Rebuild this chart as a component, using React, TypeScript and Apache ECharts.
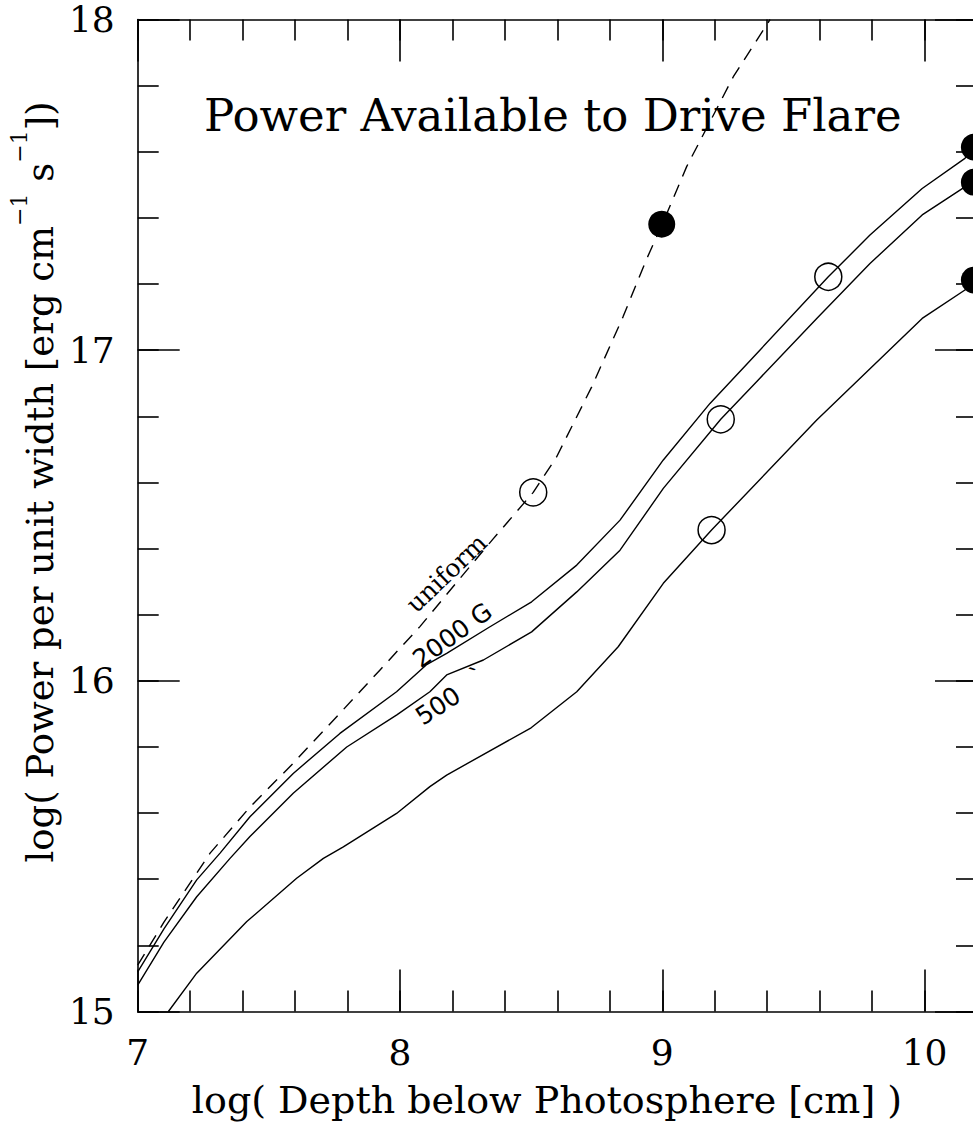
import React, { useEffect, useRef } from "react";
import * as echarts from "echarts";

// ---- data ----
const uniformX = [7.0, 7.1, 7.276, 7.429, 7.593, 7.771, 7.924, 8.076, 8.229, 8.356, 8.508, 8.597, 8.731, 8.85, 8.94, 9.0, 9.093, 9.271, 9.411];
const uniformY = [15.14, 15.27, 15.479, 15.619, 15.751, 15.902, 16.033, 16.164, 16.31, 16.43, 16.57, 16.677, 16.889, 17.1, 17.275, 17.381, 17.555, 17.827, 18.0];

const g2000X = [7.0, 7.1, 7.225, 7.314, 7.428, 7.593, 7.771, 7.987, 8.1, 8.178, 8.34, 8.502, 8.674, 8.839, 9.004, 9.182, 9.372, 9.633, 9.792, 9.991, 10.154, 10.19];
const g2000Y = [15.12, 15.25, 15.398, 15.479, 15.589, 15.72, 15.841, 15.967, 16.048, 16.083, 16.162, 16.239, 16.35, 16.486, 16.668, 16.839, 17.0, 17.222, 17.348, 17.489, 17.58, 17.614];

const g500X = [7.0, 7.1, 7.225, 7.352, 7.428, 7.593, 7.797, 7.988, 8.114, 8.178, 8.318, 8.502, 8.674, 8.839, 9.004, 9.223, 9.366, 9.589, 9.792, 9.991, 10.154, 10.19];
const g500Y = [15.08, 15.21, 15.347, 15.463, 15.529, 15.66, 15.8, 15.897, 15.967, 16.018, 16.063, 16.148, 16.269, 16.395, 16.582, 16.791, 16.91, 17.096, 17.262, 17.409, 17.494, 17.508];

const lowX = [7.117, 7.225, 7.416, 7.606, 7.708, 7.784, 7.987, 8.114, 8.178, 8.5, 8.674, 8.832, 9.004, 9.188, 9.589, 9.991, 10.154, 10.19];
const lowY = [15.0, 15.116, 15.272, 15.403, 15.463, 15.498, 15.599, 15.68, 15.715, 15.858, 15.967, 16.103, 16.295, 16.456, 16.789, 17.096, 17.182, 17.212];

const openX = [8.508, 9.633, 9.223, 9.188];
const openY = [16.57, 17.222, 16.791, 16.456];

const filledX = [8.998, 10.19, 10.19, 10.19];
const filledY = [17.381, 17.614, 17.508, 17.212];

const labelNames = ["uniform", "2000 G", "500", "`"];
const labelX = [8.178, 8.2, 8.145, 8.298];
const labelY = [16.325, 16.138, 15.924, 16.015];
const labelRot = [43.7, 36, 33, 33];

const xTickLabels = ["7", "8", "9", "10"];
const yTickLabels = ["15", "16", "17", "18"];

const TITLE = "Power Available to Drive Flare";
const XNAME = "log( Depth below Photosphere [cm] )";

const zip = (xs: number[], ys: number[]) => xs.map((x, i) => [x, ys[i]]);

const SERIF = '"DejaVu Serif", "Liberation Serif", serif';
const SANS = '"DejaVu Sans", "Liberation Sans", sans-serif';
const AX = { color: "#000", width: 1.6 };

function xAxis(position: string, interval: number, len: number, labels: boolean, line: boolean) {
  return {
    type: "value",
    position,
    min: 7,
    max: 10.2,
    interval,
    axisLine: { show: line, lineStyle: AX },
    axisTick: { show: true, inside: true, length: len, lineStyle: AX },
    axisLabel: labels
      ? {
          show: true,
          margin: 23,
          color: "#000",
          fontFamily: SERIF,
          fontSize: 36,
          formatter: (v: number) => (xTickLabels.includes(String(v)) ? String(v) : ""),
        }
      : { show: false },
    splitLine: { show: false },
  };
}

function yAxis(position: string, interval: number, len: number, labels: boolean, line: boolean) {
  return {
    type: "value",
    position,
    min: 15,
    max: 18,
    interval,
    axisLine: { show: line, lineStyle: AX },
    axisTick: { show: true, inside: true, length: len, lineStyle: AX },
    axisLabel: labels
      ? {
          show: true,
          margin: 23,
          color: "#000",
          fontFamily: SERIF,
          fontSize: 36,
          formatter: (v: number) => (yTickLabels.includes(String(v)) ? String(v) : ""),
        }
      : { show: false },
    splitLine: { show: false },
  };
}

function lineSeries(name: string, xs: number[], ys: number[], dashed: boolean) {
  return {
    name,
    type: "line",
    data: zip(xs, ys),
    symbol: "none",
    smooth: false,
    clip: true,
    lineStyle: { color: "#000", width: 1.4, type: dashed ? [13, 9] : "solid", opacity: 1 },
    z: 2,
  };
}

export default function App() {
  const ref = useRef<HTMLDivElement>(null);

  useEffect(() => {
    if (!ref.current) return;
    const chart = echarts.init(ref.current, undefined, { renderer: "svg" });
    chart.setOption({
      animation: false,
      backgroundColor: "#fff",
      title: {
        text: TITLE,
        left: 199,
        top: 88,
        textStyle: { fontFamily: SERIF, fontSize: 45, fontWeight: "normal", color: "#000" },
      },
      grid: { left: 137.7, top: 19.5, width: 839.3, height: 992, containLabel: false },
      xAxis: [
        xAxis("bottom", 1, 42, true, true),
        xAxis("bottom", 0.2, 21, false, false),
        xAxis("top", 1, 42, false, true),
        xAxis("top", 0.2, 21, false, false),
      ],
      yAxis: [
        yAxis("left", 1, 42, true, true),
        yAxis("left", 0.2, 21, false, false),
        yAxis("right", 1, 42, false, true),
        yAxis("right", 0.2, 21, false, false),
      ],
      graphic: [
        {
          type: "text",
          x: 547,
          y: 1100,
          style: {
            text: XNAME,
            fontFamily: SERIF,
            fontSize: 38,
            fill: "#000",
            align: "center",
            verticalAlign: "middle",
          },
        },
        {
          type: "text",
          x: 40,
          y: 482,
          rotation: Math.PI / 2,
          style: {
            text: "{m|log( Power per unit width [erg cm}{s|−1}{m| s}{s|−1}{m|])}",
            rich: {
              m: { fontFamily: SERIF, fontSize: 37, lineHeight: 64, fill: "#000" },
              s: { fontFamily: SERIF, fontSize: 22, lineHeight: 22, verticalAlign: "top", fill: "#000" },
            },
            fill: "#000",
            align: "center",
            verticalAlign: "middle",
          },
        },
      ],
      series: [
        lineSeries("uniform", uniformX, uniformY, true),
        lineSeries("2000 G", g2000X, g2000Y, false),
        lineSeries("500 G", g500X, g500Y, false),
        lineSeries("low", lowX, lowY, false),
        {
          type: "scatter",
          data: zip(openX, openY),
          symbol: "circle",
          symbolSize: 27,
          clip: false,
          itemStyle: { color: "rgba(0,0,0,0)", borderColor: "#000", borderWidth: 1.5, opacity: 1 },
          z: 3,
        },
        {
          type: "scatter",
          data: zip(filledX, filledY),
          symbol: "circle",
          symbolSize: 27,
          clip: false,
          itemStyle: { color: "#000", opacity: 1 },
          z: 3,
        },
        {
          type: "scatter",
          symbolSize: 1,
          clip: false,
          itemStyle: { color: "rgba(0,0,0,0)", opacity: 1 },
          data: labelNames.map((n, i) => ({
            name: n,
            value: [labelX[i], labelY[i]],
            label: {
              rotate: labelRot[i],
              fontFamily: i === 0 ? SERIF : SANS,
              fontSize: 25,
            },
          })),
          label: {
            show: true,
            position: "inside",
            formatter: "{b}",
            color: "#000",
            opacity: 1,
            textBorderWidth: 0,
          },
          silent: true,
          z: 4,
        },
      ],
    });
    return () => chart.dispose();
  }, []);

  return (
    <div
      style={{
        position: "fixed",
        left: 0,
        top: 0,
        width: 973,
        height: 1133,
        overflow: "hidden",
        background: "#fff",
      }}
    >
      <div ref={ref} style={{ width: 1010, height: 1133 }} />
    </div>
  );
}
